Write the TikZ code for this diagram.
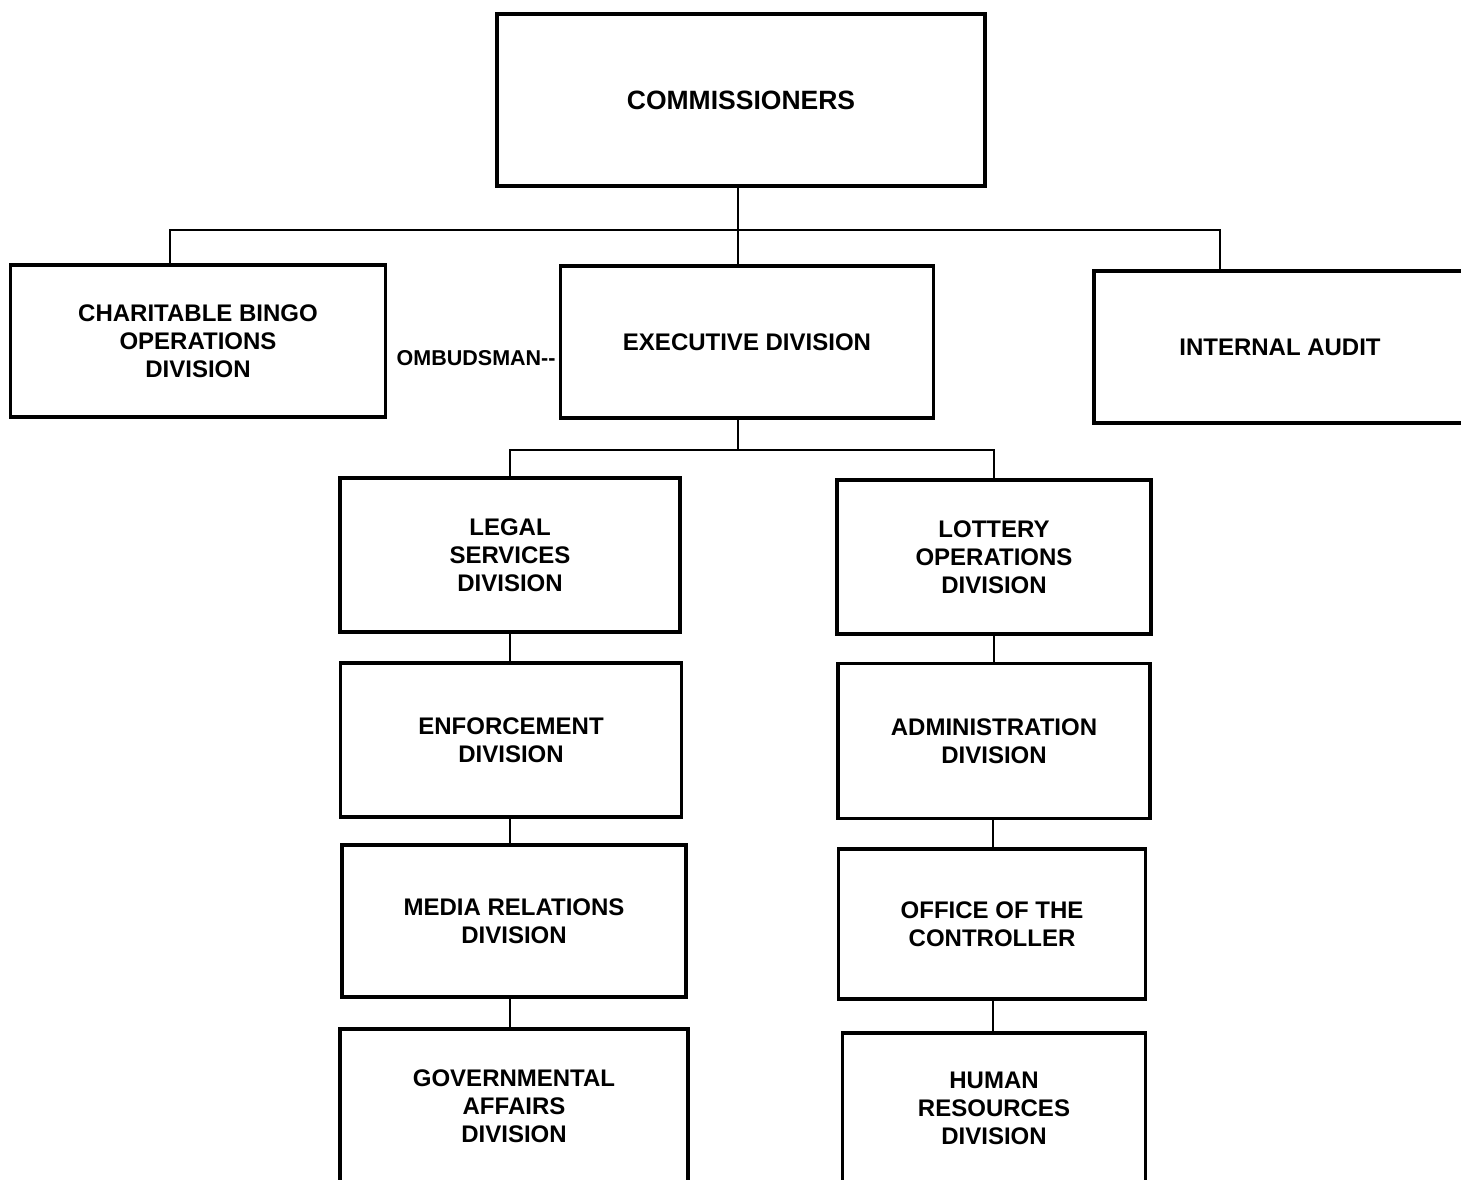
\documentclass[tikz,border=0pt]{standalone}
\usepackage{fontspec}
\setmainfont{Liberation Sans}
\usetikzlibrary{positioning}

\begin{document}
\begin{tikzpicture}[x=1pt,y=-1pt,
    unit/.style={draw,line width=3.5pt,inner sep=0pt,align=center,
      font=\bfseries\fontsize{24}{28}\selectfont},
    link/.style={line width=2pt}]
    \useasboundingbox (0,0) rectangle (1461,1180);

    % Commissioners
    \node[unit,minimum width=488,minimum height=172,
      font=\bfseries\fontsize{26.5}{30}\selectfont] (comm) at (741,100) {COMMISSIONERS};

    % Second level
    \node[unit,minimum width=375,minimum height=152] (bingo) at (198,341)
      {CHARITABLE BINGO\\OPERATIONS\\DIVISION};
    \node[unit,minimum width=373,minimum height=152] (exec) at (747,342) {EXECUTIVE DIVISION};
    \node[unit,minimum width=372,minimum height=152] (audit) at (1280,347) {INTERNAL AUDIT};
    \node[inner sep=0pt,left=3pt of exec,yshift=-16pt,
      font=\bfseries\fontsize{21.5}{24}\selectfont] (omb) {OMBUDSMAN{-}{-}};

    % Legal column
    \node[unit,minimum width=340,minimum height=154] (legal) at (510,555) {LEGAL\\SERVICES\\DIVISION};
    \node[unit,minimum width=341,minimum height=154] (enforce) at (511,740) {ENFORCEMENT\\DIVISION};
    \node[unit,minimum width=344,minimum height=152] (media) at (514,921) {MEDIA RELATIONS\\DIVISION};
    \node[unit,minimum width=348,minimum height=154] (gov) at (514,1106) {GOVERNMENTAL\\AFFAIRS\\DIVISION};

    % Lottery column
    \node[unit,minimum width=314,minimum height=154] (lottery) at (994,557) {LOTTERY\\OPERATIONS\\DIVISION};
    \node[unit,minimum width=312,minimum height=155] (admin) at (994,741) {ADMINISTRATION\\DIVISION};
    \node[unit,minimum width=307,minimum height=150] (office) at (992,924) {OFFICE OF THE\\CONTROLLER};
    \node[unit,minimum width=303,minimum height=150] (hr) at (994,1108) {HUMAN\\RESOURCES\\DIVISION};

    % Connectors
    \coordinate (bus1) at (738,230);
    \coordinate (bus2) at (738,450);
    \draw[link] (comm.south -| bus1) -- (bus1);
    \draw[link] (bingo.north -| 170,0) |- (bus1) -| (audit.north -| 1220,0);
    \draw[link] (bus1) -- (exec.north -| bus1);
    \draw[link] (exec.south -| bus2) -- (bus2);
    \draw[link] (legal.north) |- (bus2) -| (lottery.north);
    \draw[link] (legal.south) -- (legal.south |- enforce.north);
    \draw[link] (legal.south |- enforce.south) -- (legal.south |- media.north);
    \draw[link] (legal.south |- media.south) -- (legal.south |- gov.north);
    \draw[link] (lottery.south) -- (lottery.south |- admin.north);
    \draw[link] (office.north -| 993,0) -- (admin.south -| 993,0);
    \draw[link] (office.south -| 993,0) -- (hr.north -| 993,0);
\end{tikzpicture}
\end{document}
